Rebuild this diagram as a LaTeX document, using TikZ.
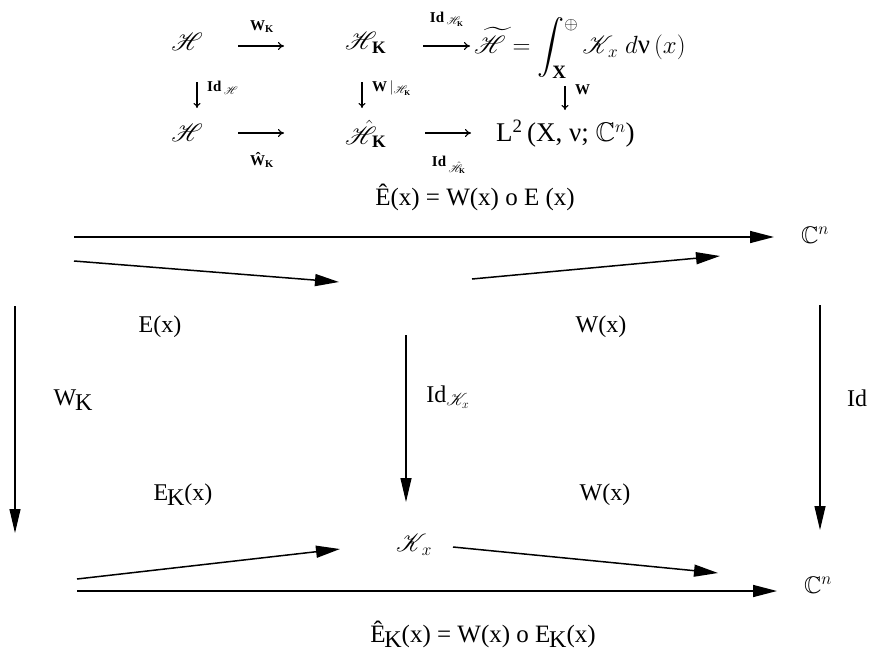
\documentclass[tikz,border=0pt]{standalone}
\usepackage{amsmath,amssymb}
\usepackage{mathrsfs}
\usepackage{fontspec}
\setmainfont{Liberation Serif}
\usetikzlibrary{arrows.meta}
\newcommand{\bK}{\text{\bfseries K}}
\newcommand{\lowK}{\kern-0.05em\raisebox{-0.45ex}{\fontsize{24}{24}\selectfont K}}
\begin{document}
\begin{tikzpicture}[x=1pt,y=-1pt,
  every node/.style={inner sep=0pt},
  big/.style={font=\fontsize{27}{31}\selectfont},
  top/.style={font=\fontsize{25}{29}\selectfont},
  mid/.style={font=\fontsize{24}{28}\selectfont},
  form/.style={font=\fontsize{25}{29}\selectfont},
  lab/.style={font=\fontsize{15}{17}\selectfont\bfseries},
  main/.style={line width=1.5pt,-{Triangle[length=24pt,width=12pt]}},
  vert/.style={line width=1.2pt,-{Triangle[length=24pt,width=11pt]}},
  small/.style={line width=1.1pt,-{To[length=6pt,width=8pt]}},
  down/.style={line width=1.1pt,-{To[length=5pt,width=7pt]}}]
\useasboundingbox (0,0) rectangle (872,653);
% ---------- top diagram ----------
\node[top] (H1) at (187,42) {$\mathscr{H}$};
\coordinate (a1s) at (238,46); \coordinate (a1e) at (284,46);
\draw[small] (a1s) -- (a1e);
\node[lab] (lWK) at (262,27) {W$_{\bK}$};
\node[top,anchor=west] (HK) at (345,43) {$\mathscr{H}_{\,\bK}$};
\coordinate (a2s) at (423,46); \coordinate (a2e) at (470,46);
\draw[small] (a2s) -- (a2e);
\node[lab] (lIdHK) at (447,19) {Id\,$_{\mathscr{H}_{\bK}}$};
\node[big,anchor=west] (Ht) at (474,48) {$\widetilde{\mathscr{H}} = \displaystyle\int_{\text{\bfseries X}}^{\raisebox{-5pt}{$\scriptstyle\oplus$}} \mathscr{K}_{\,x}\;d\text{ν}\,(x)$};
\coordinate (d1s) at (197,82); \coordinate (d1e) at (197,108);
\draw[down] (d1s) -- (d1e);
\node[lab,anchor=west] (lIdH) at (207,88) {Id\,$_{\mathscr{H}}$};
\coordinate (d2s) at (362,82); \coordinate (d2e) at (362,108);
\draw[down] (d2s) -- (d2e);
\node[lab,anchor=west] (lWres) at (372,88) {W\,$|_{\mathscr{H}_{\bK}}$};
\coordinate (d3s) at (565,86); \coordinate (d3e) at (565,110);
\draw[down] (d3s) -- (d3e);
\node[lab,anchor=west] (lW) at (575,90) {W};
\node[top] (H2) at (187,133) {$\mathscr{H}$};
\coordinate (a3s) at (238,133); \coordinate (a3e) at (284,133);
\draw[small] (a3s) -- (a3e);
\node[lab] (lWhK) at (262,160) {Ŵ$_{\bK}$};
\node[top,anchor=west] (HhK) at (345,134) {$\hat{\mathscr{H}}_{\,\bK}$};
\coordinate (a4s) at (425,133); \coordinate (a4e) at (471,133);
\draw[small] (a4s) -- (a4e);
\node[lab] (lIdHh) at (449,165) {Id\,$_{\hat{\mathscr{H}}_{\bK}}$};
\node[big,anchor=west] (L2) at (496,134) {L\textsuperscript{2}\,(X,\ ν;\ $\mathbb{C}^{n}$)};
\node[form] (Ehat) at (475,197) {Ê(x) = W(x) o E (x)};
% ---------- main diagram ----------
\coordinate (tl) at (74,237); \coordinate (tr) at (774,237);
\node[mid] (Cn1) at (815,235) {$\mathbb{C}^{n}$};
\draw[main] (tl) -- (tr);
\coordinate (el) at (74,261); \coordinate (em) at (339,282);
\draw[main] (el) -- (em);
\coordinate (wm) at (472,279); \coordinate (wr) at (720,256);
\draw[main] (wm) -- (wr);
\coordinate (lv1) at (15,306); \coordinate (lv2) at (15,533);
\draw[vert] (lv1) -- (lv2);
\coordinate (rv1) at (820,305); \coordinate (rv2) at (820,530);
\draw[vert] (rv1) -- (rv2);
\coordinate (mv1) at (406,335);
\node[mid] (Kx) at (414,545) {$\mathscr{K}_{\,x}$};
\draw[vert] (mv1) -- (406,502);
\node[mid] (lE) at (160,327) {E(x)};
\node[mid] (lW1) at (601,327) {W(x)};
\node[mid] (lWK2) at (73,400) {W\lowK};
\node[mid] (lIdK) at (448,397) {Id$_{\mathscr{K}_{x}}$};
\node[mid] (lId) at (857,398) {Id};
\node[mid] (lEK) at (183,495) {E\lowK(x)};
\node[mid] (lW2) at (605,495) {W(x)};
\coordinate (ekl) at (77,579); \coordinate (ekm) at (340,549);
\draw[main] (ekl) -- (ekm);
\coordinate (kr) at (718,573);
\draw[main] (453,547) -- (kr);
\coordinate (bl) at (77,591); \coordinate (br) at (777,591);
\draw[main] (bl) -- (br);
\node[mid] (Cn2) at (818,585) {$\mathbb{C}^{n}$};
\node[form] (EKhat) at (483,634) {Ê\lowK(x) = W(x) o E\lowK(x)};
\end{tikzpicture}
\end{document}
